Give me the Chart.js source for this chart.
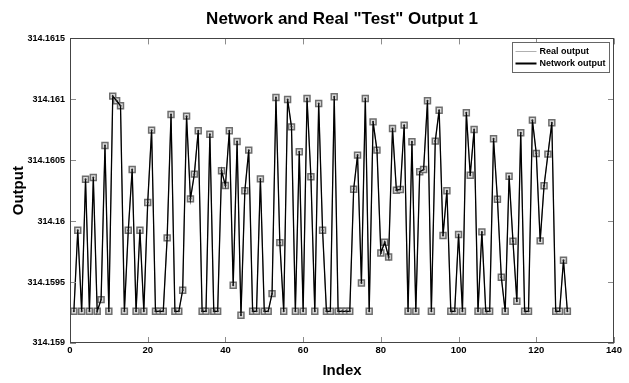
<!DOCTYPE html>
<html>
<head>
<meta charset="utf-8">
<script src="https://cdn.jsdelivr.net/npm/chart.js@4.4.0/dist/chart.umd.min.js"></script>
<style>
  html, body { margin: 0; padding: 0; background: #fff; }
</style>
</head>
<body>
<canvas id="chart" width="629" height="383"></canvas>
<script>
// values (sample index 1..128)
const realOutput = [
  314.15926, 314.159926, 314.15926, 314.160344, 314.15926, 314.160358, 314.15926, 314.159356,
  314.160621, 314.15926, 314.161026, 314.160988, 314.160947, 314.15926, 314.159926, 314.160424,
  314.15926, 314.159926, 314.15926, 314.160153, 314.160747, 314.15926, 314.15926, 314.15926,
  314.159863, 314.160876, 314.15926, 314.15926, 314.159433, 314.160862, 314.160183, 314.160386,
  314.160742, 314.15926, 314.15926, 314.160714, 314.15926, 314.15926, 314.160413, 314.160292,
  314.160742, 314.159474, 314.160654, 314.159227, 314.160249, 314.160583, 314.15926, 314.15926,
  314.160347, 314.15926, 314.15926, 314.159405, 314.161015, 314.159824, 314.15926, 314.160999,
  314.160774, 314.15926, 314.160569, 314.15926, 314.161007, 314.160364, 314.15926, 314.160966,
  314.159926, 314.15926, 314.15926, 314.161021, 314.15926, 314.15926, 314.15926, 314.15926,
  314.160262, 314.160542, 314.159493, 314.161007, 314.15926, 314.160815, 314.160583, 314.159739,
  314.159827, 314.159706, 314.160761, 314.160254, 314.16026, 314.160788, 314.15926, 314.160651,
  314.15926, 314.160405, 314.160424, 314.160988, 314.15926, 314.160657, 314.160911, 314.159882,
  314.160249, 314.15926, 314.15926, 314.15989, 314.15926, 314.160889, 314.160377, 314.160752,
  314.15926, 314.159912, 314.15926, 314.15926, 314.160676, 314.16018, 314.15954, 314.15926,
  314.160369, 314.159835, 314.159342, 314.160725, 314.15926, 314.15926, 314.160829, 314.160555,
  314.159838, 314.160291, 314.16055, 314.160807, 314.15926, 314.15926, 314.159679, 314.15926
];
// the network reproduces the real output (the two traces overlap)
const networkOutput = realOutput.slice();
const xTicks = [0, 20, 40, 60, 80, 100, 120, 140];
const yTicks = [314.159, 314.1595, 314.16, 314.1605, 314.161, 314.1615];

const FONT = "'Liberation Sans', Arial, sans-serif";
const toPoints = arr => arr.map((v, i) => ({ x: i + 1, y: v }));

// matlab style box, inward ticks and boxed legend
const matlabFrame = {
  id: 'matlabFrame',
  afterDraw(chart) {
    const { ctx, chartArea: a, scales: { x, y } } = chart;
    ctx.save();
    ctx.lineWidth = 1;
    ctx.strokeStyle = '#8c8c8c';
    ctx.beginPath();
    x.ticks.forEach(t => {
      const px = Math.round(x.getPixelForValue(t.value)) + 0.5;
      ctx.moveTo(px, a.bottom); ctx.lineTo(px, a.bottom - 6);
      ctx.moveTo(px, a.top); ctx.lineTo(px, a.top + 6);
    });
    y.ticks.forEach(t => {
      const py = Math.round(y.getPixelForValue(t.value)) + 0.5;
      ctx.moveTo(a.left, py); ctx.lineTo(a.left + 6, py);
      ctx.moveTo(a.right, py); ctx.lineTo(a.right - 6, py);
    });
    ctx.stroke();
    ctx.strokeStyle = '#444';
    ctx.strokeRect(Math.round(a.left) + 0.5, Math.round(a.top) + 0.5, Math.round(a.width) - 1, Math.round(a.height) - 1);

    // legend box
    const bx = Math.round(a.right) - 102 + 0.5, by = Math.round(a.top) + 4 + 0.5;
    ctx.fillStyle = '#fff';
    ctx.fillRect(bx, by, 97, 30);
    ctx.strokeStyle = '#666';
    ctx.strokeRect(bx, by, 97, 30);
    ctx.font = "bold 9px " + FONT;
    ctx.textBaseline = 'middle';
    ctx.textAlign = 'left';
    chart.data.datasets.forEach((ds, i) => {
      const ly = by + 9 + i * 12;
      ctx.strokeStyle = ds.legendColor;
      ctx.lineWidth = ds.legendWidth;
      ctx.beginPath(); ctx.moveTo(bx + 3, ly); ctx.lineTo(bx + 24, ly); ctx.stroke();
      ctx.fillStyle = '#000';
      ctx.fillText(ds.label, bx + 27, ly);
    });
    ctx.restore();
  }
};

new Chart(document.getElementById('chart'), {
  type: 'line',
  data: {
    datasets: [
      { label: 'Real output', data: toPoints(realOutput), borderColor: '#9a9a9a', borderWidth: 1,
        legendColor: '#b0b0b0', legendWidth: 1,
        pointStyle: 'rect', pointRadius: 4.2, pointBorderWidth: 1.5, pointBorderColor: '#6e6e6e',
        pointBackgroundColor: '#dcdcdc', tension: 0, order: 2 },
      { label: 'Network output', data: toPoints(networkOutput), borderColor: '#000', borderWidth: 1.3,
        legendColor: '#000', legendWidth: 2,
        pointRadius: 1, pointBorderWidth: 0, pointBackgroundColor: '#222', tension: 0, order: 1 }
    ]
  },
  options: {
    responsive: false,
    animation: false,
    devicePixelRatio: 1,
    layout: { padding: { left: 0, right: 15, top: 0, bottom: 0 } },
    plugins: {
      legend: { display: false },
      tooltip: { enabled: false },
      title: {
        display: true, fullSize: false,
        text: 'Network and Real "Test" Output 1',
        color: '#000', font: { family: FONT, size: 17, weight: 'bold' },
        padding: { top: 9, bottom: 9 }
      }
    },
    scales: {
      x: {
        type: 'linear', min: 0, max: 140,
        afterBuildTicks: s => { s.ticks = xTicks.map(v => ({ value: v })); },
        afterFit: s => { s.height = 40; },
        grid: { display: false, drawTicks: false }, border: { display: false },
        ticks: { color: '#000', font: { family: FONT, size: 9.5, weight: 'bold' }, padding: 2, maxRotation: 0 },
        title: { display: true, text: 'Index', color: '#000', font: { family: FONT, size: 15, weight: 'bold' }, padding: { top: 0, bottom: 3 } }
      },
      y: {
        type: 'linear', min: 314.159, max: 314.1615,
        afterBuildTicks: s => { s.ticks = yTicks.map(v => ({ value: v })); },
        afterFit: s => { s.width = 70; },
        grid: { display: false, drawTicks: false }, border: { display: false },
        ticks: { color: '#000', font: { family: FONT, size: 9, weight: 'bold' }, padding: 5,
          callback: v => String(+(+v).toFixed(4)) },
        title: { display: true, text: 'Output', color: '#000', font: { family: FONT, size: 15, weight: 'bold' }, padding: { top: 10 } }
      }
    }
  },
  plugins: [matlabFrame]
});
</script>
</body>
</html>
